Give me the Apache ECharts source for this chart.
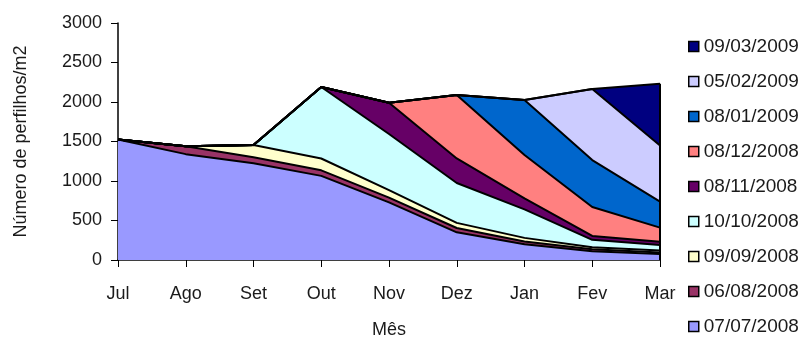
<!DOCTYPE html>
<html>
<head>
<meta charset="utf-8">
<script src="https://cdn.jsdelivr.net/npm/echarts@6/dist/echarts.min.js"></script>
<style>
  html, body { margin: 0; padding: 0; background: #fff; }
  #chart { width: 807px; height: 337px; }
</style>
</head>
<body>
<div id="chart"></div>
<script>
// months on the x axis
const months = ['Jul', 'Ago', 'Set', 'Out', 'Nov', 'Dez', 'Jan', 'Fev', 'Mar'];
const yTicks = [0, 500, 1000, 1500, 2000, 2500, 3000];

// tillers per m2 for each cohort (stacked bottom to top)
const c070708 = [1525, 1340, 1225, 1065, 730, 350, 200, 110, 75];
const c060808 = [0, 100, 75, 70, 60, 55, 35, 25, 20];
const c090908 = [0, 0, 155, 150, 95, 65, 45, 25, 25];
const c101008 = [0, 0, 0, 905, 710, 505, 360, 95, 70];
const c081108 = [0, 0, 0, 0, 395, 310, 140, 50, 40];
const c081208 = [0, 0, 0, 0, 0, 805, 550, 365, 180];
const c080109 = [0, 0, 0, 0, 0, 0, 695, 595, 330];
const c050209 = [0, 0, 0, 0, 0, 0, 0, 900, 710];
const c090309 = [0, 0, 0, 0, 0, 0, 0, 0, 780];

const cohorts = [
  { name: '07/07/2008', data: c070708, color: '#9999FF' },
  { name: '06/08/2008', data: c060808, color: '#993366' },
  { name: '09/09/2008', data: c090908, color: '#FFFFCC' },
  { name: '10/10/2008', data: c101008, color: '#CCFFFF' },
  { name: '08/11/2008', data: c081108, color: '#660066' },
  { name: '08/12/2008', data: c081208, color: '#FF8080' },
  { name: '08/01/2009', data: c080109, color: '#0066CC' },
  { name: '05/02/2009', data: c050209, color: '#CCCCFF' },
  { name: '09/03/2009', data: c090309, color: '#000080' },
];

const last = months.length - 1;
const lastTotal = cohorts.reduce((s, c) => s + c.data[last], 0);

const font = 'Liberation Sans, Arial, sans-serif';
const txt = '#1a1a1a';

const chart = echarts.init(document.getElementById('chart'));

const series = cohorts.map((c, i) => ({
  name: c.name,
  type: 'line',
  stack: 'total',
  data: c.data,
  showSymbol: false,
  symbol: 'none',
  lineStyle: { color: '#000', width: 2 },
  areaStyle: { color: c.color, opacity: 1 },
  itemStyle: { color: c.color, borderColor: '#000', borderWidth: 1 },
  emphasis: { disabled: true },
  // closing edge at the last month, like the original
  markLine: i === cohorts.length - 1 ? {
    silent: true,
    symbol: 'none',
    label: { show: false },
    lineStyle: { color: '#000', width: 2, type: 'solid' },
    data: [[{ coord: [months[last], 0] }, { coord: [months[last], lastTotal] }]],
  } : undefined,
}));

const option = {
  animation: false,
  backgroundColor: '#fff',
  grid: { left: 118, right: 147, top: 23, bottom: 77, outerBoundsMode: 'none' },
  legend: {
    orient: 'vertical',
    left: 688,
    top: 37,
    height: 310,
    padding: 0,
    itemWidth: 10,
    itemHeight: 10,
    itemGap: 16,
    icon: 'rect',
    data: cohorts.map(c => c.name).reverse(),
    itemStyle: { borderColor: '#000', borderWidth: 1.5 },
    textStyle: { fontFamily: font, fontSize: 19, color: txt },
  },
  xAxis: {
    type: 'category',
    data: months,
    boundaryGap: false,
    name: 'Mês',
    nameLocation: 'middle',
    nameGap: 61,
    nameTextStyle: { fontFamily: font, fontSize: 18, color: txt },
    axisLine: { lineStyle: { color: '#000', width: 1.5 } },
    axisTick: { show: true, length: 7, lineStyle: { color: '#000' } },
    axisLabel: { fontFamily: font, fontSize: 18, color: txt, margin: 25 },
  },
  yAxis: {
    type: 'value',
    min: yTicks[0],
    max: yTicks[yTicks.length - 1],
    interval: yTicks[1] - yTicks[0],
    name: 'Número de perfilhos/m2',
    nameLocation: 'middle',
    nameGap: 88,
    nameTextStyle: { fontFamily: font, fontSize: 18, color: txt },
    axisLine: { show: true, lineStyle: { color: '#000', width: 1.5 } },
    axisTick: { show: true, length: 7, lineStyle: { color: '#000' } },
    axisLabel: { fontFamily: font, fontSize: 18, color: txt, margin: 16, formatter: v => String(v) },
    splitLine: { show: false },
  },
  series: series,
};

chart.setOption(option);
</script>
</body>
</html>
